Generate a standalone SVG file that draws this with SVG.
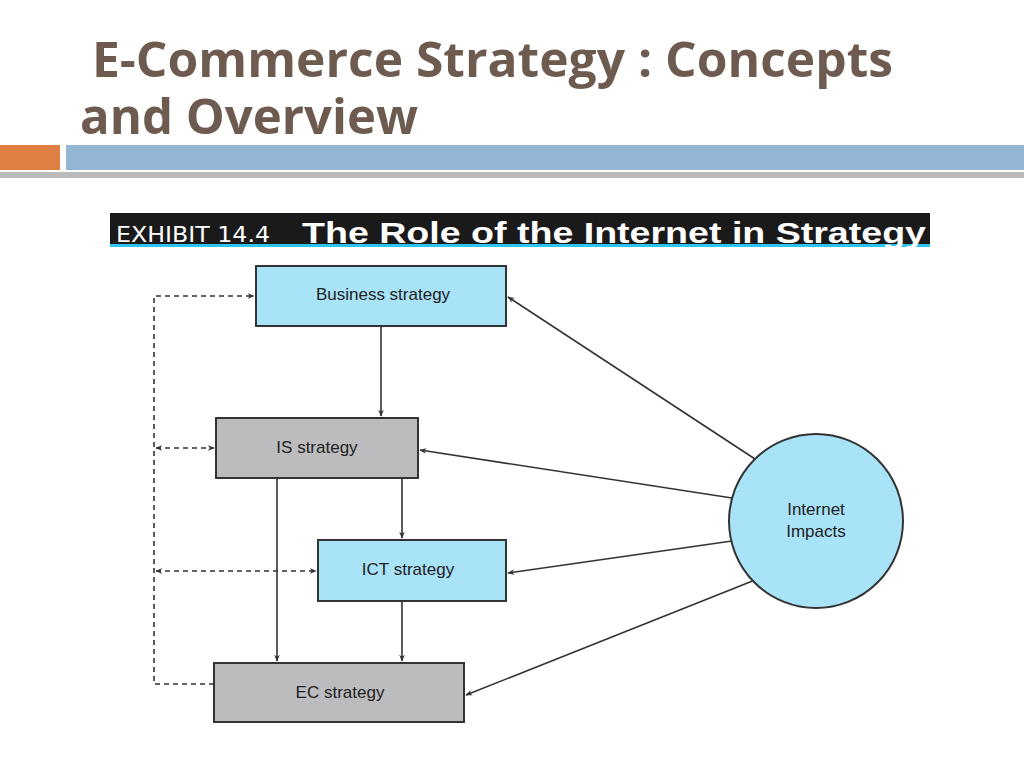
<svg xmlns="http://www.w3.org/2000/svg" width="1024" height="768" viewBox="0 0 1024 768">
<style>
.t{font-family:"Open Sans","Noto Sans",sans-serif;font-weight:bold;fill:#6e5b4f;font-size:48px}
.n{stroke:#333;stroke-width:2}
.b{fill:#a8e3f8}.g{fill:#bcbcbe}
.lb{font-family:"Liberation Sans",Arial,sans-serif;font-size:17px;fill:#222;text-anchor:middle}
.c line,.c path{stroke:#333;stroke-width:1.6;fill:none}
.d{stroke-dasharray:5,4}
</style>
<defs>
<marker id="a" viewBox="0 0 10 10" refX="9" refY="5" markerWidth="7" markerHeight="7" orient="auto-start-reverse" markerUnits="userSpaceOnUse"><path d="M0,1 L10,5 L0,9 L3,5 z" fill="#333"/></marker>
</defs>
<rect width="1024" height="768" fill="#fff"/>
<text class="t" x="92" y="77" textLength="801" lengthAdjust="spacingAndGlyphs">E-Commerce Strategy : Concepts</text>
<text class="t" x="80" y="134" textLength="338" lengthAdjust="spacingAndGlyphs">and Overview</text>
<rect x="0" y="172" width="1024" height="6" fill="#bbb"/>
<rect x="0" y="145" width="60" height="25" fill="#e07f44"/>
<rect x="66" y="145" width="958" height="25" fill="#93b6d4"/>
<rect x="110" y="213" width="820" height="31" fill="#1a1a1a"/>
<rect x="110" y="244" width="820" height="3" fill="#2cc4f0"/>
<text x="116" y="242" font-family="'DejaVu Sans Condensed','Liberation Sans Narrow',sans-serif" font-size="22" fill="#fff" textLength="154" lengthAdjust="spacingAndGlyphs">EXHIBIT 14.4</text>
<text x="302" y="243" font-family="'Liberation Sans',Arial,sans-serif" font-weight="bold" font-size="30" fill="#fff" textLength="624" lengthAdjust="spacingAndGlyphs">The Role of the Internet in Strategy</text>
<g class="c">
<path class="d" d="M214,684 H154 V296 H254" marker-end="url(#a)"/>
<line class="d" x1="156" y1="448" x2="214" y2="448" marker-start="url(#a)" marker-end="url(#a)"/>
<line class="d" x1="156" y1="571" x2="316" y2="571" marker-start="url(#a)" marker-end="url(#a)"/>
<line x1="381" y1="326" x2="381" y2="416" marker-end="url(#a)"/>
<line x1="402" y1="478" x2="402" y2="538" marker-end="url(#a)"/>
<line x1="277" y1="478" x2="277" y2="661" marker-end="url(#a)"/>
<line x1="402" y1="601" x2="402" y2="661" marker-end="url(#a)"/>
<line x1="755" y1="459" x2="508" y2="297" marker-end="url(#a)"/>
<line x1="732" y1="498" x2="420" y2="450" marker-end="url(#a)"/>
<line x1="732" y1="541" x2="508" y2="573" marker-end="url(#a)"/>
<line x1="755" y1="580" x2="466" y2="695" marker-end="url(#a)"/>
</g>
<g id="business"><rect class="n b" x="256" y="266" width="250" height="60"/><text class="lb" x="383" y="300">Business strategy</text></g>
<g id="is"><rect class="n g" x="216" y="418" width="202" height="60"/><text class="lb" x="317" y="453">IS strategy</text></g>
<g id="ict"><rect class="n b" x="318" y="540" width="188" height="61"/><text class="lb" x="408" y="575">ICT strategy</text></g>
<g id="ec"><rect class="n g" x="214" y="663" width="250" height="59"/><text class="lb" x="340" y="698">EC strategy</text></g>
<g id="internet"><circle class="n b" cx="816" cy="521" r="87"/><text class="lb" x="816" y="515">Internet</text><text class="lb" x="816" y="537">Impacts</text></g>
</svg>
